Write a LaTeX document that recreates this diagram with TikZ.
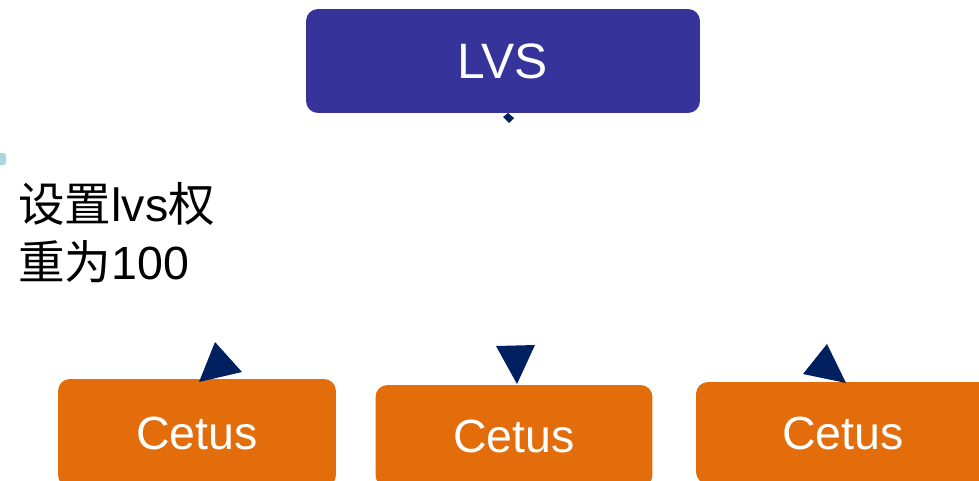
\documentclass[tikz,border=0pt]{standalone}
\usepackage{fontspec}
\setmainfont{Liberation Sans}
\newfontfamily\cjk{Noto Sans CJK SC}
\usepackage{tikz}
\usetikzlibrary{shapes,arrows,positioning}

\definecolor{lvsblue}{HTML}{36349A}
\definecolor{cetusorange}{HTML}{E36C0B}
\definecolor{tipnavy}{HTML}{002060}
\definecolor{markteal}{HTML}{A9D9DA}

\begin{document}
\begin{tikzpicture}[x=0.02cm, y=-0.02cm]
        % Define styles
        \tikzstyle{server} = [rectangle, rounded corners=0.24cm, text=white, inner sep=0pt, font=\fontsize{26.5}{30}\selectfont]
        \tikzstyle{balancer} = [server, fill=lvsblue, minimum width=7.88cm, minimum height=2.08cm, font=\fontsize{28.3}{32}\selectfont]
        \tikzstyle{backend} = [server, fill=cetusorange]
        \tikzstyle{tip} = [fill=tipnavy]

        \useasboundingbox (0,0) rectangle (979,480);
        \clip (0,0) rectangle (979,480);

        % Load balancer
        \node [balancer] (lvs) at (503,61) {LVS};
        \coordinate (hub) at (508,118);

        % Backends
        \node [backend, minimum width=5.56cm, minimum height=2.16cm] (cetus1) at (197,433) {Cetus};
        \node [backend, minimum width=5.54cm, minimum height=2.04cm] (cetus2) at (514,436) {Cetus};
        \node [backend, minimum width=5.88cm, minimum height=2.04cm] (cetus3) at (843,433) {Cetus};

        % Weight note
        \node [anchor=north west, align=left, inner sep=0pt, font=\fontsize{26.5}{33}\selectfont] (weight) at (18,182)
            {{\cjk 设置}lvs{\cjk 权}\\{\cjk 重为}100};

        % Arrow tips
        \fill [tip] (hub) ++(0,-5) -- ++(6,5) -- ++(-5,5) -- ++(-6,-6) -- cycle;
        \fill [tip] (215,342) -- (242,372) -- (199,382) -- cycle;
        \fill [tip] (496,346) -- (535,345) -- (517,384) -- cycle;
        \fill [tip] (827,344) -- (846,383) -- (803,374) -- cycle;

        % Edge mark
        \fill [markteal, rounded corners=1pt] (-3,153) rectangle (6,165);
    \end{tikzpicture}
\end{document}
